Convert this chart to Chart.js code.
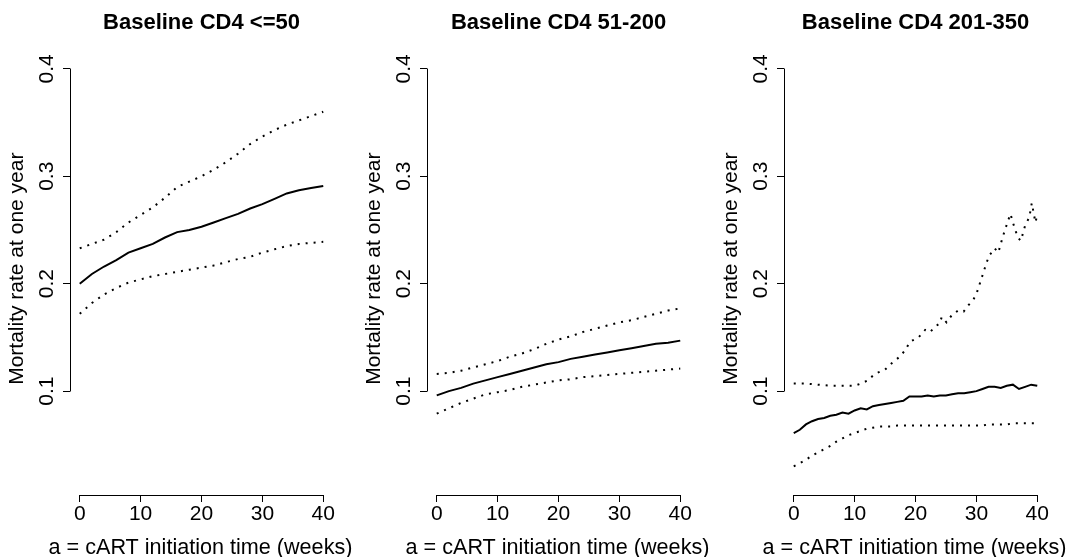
<!DOCTYPE html>
<html>
<head>
<meta charset="utf-8">
<script src="https://cdn.jsdelivr.net/npm/chart.js@4.4.0/dist/chart.umd.min.js"></script>
<style>
	body { margin: 0; background: #fff; }
	#wrap { position: relative; width: 1070px; height: 557px; }
	canvas { position: absolute; top: 0; }
</style>
</head>
<body>
<div id="wrap">
	<canvas id="panel1" width="357" height="557" style="left:0px"></canvas>
	<canvas id="panel2" width="357" height="557" style="left:357px"></canvas>
	<canvas id="panel3" width="356" height="557" style="left:714px"></canvas>
</div>
<script>
var titles = ['Baseline CD4 <=50', 'Baseline CD4 51-200', 'Baseline CD4 201-350'];
var xTitle = 'a = cART initiation time (weeks)';
var yTitle = 'Mortality rate at one year';
var xTicks = [0, 10, 20, 30, 40];
var yTicks = [0.1, 0.2, 0.3, 0.4];

// weeks sampled every 2 for the smooth panels
var weeks = [0, 2, 4, 6, 8, 10, 12, 14, 16, 18, 20, 22, 24, 26, 28, 30, 32, 34, 36, 38, 40];

// CD4 <= 50
var est1   = [0.200, 0.209, 0.216, 0.222, 0.229, 0.233, 0.237, 0.243, 0.248, 0.250, 0.253, 0.257, 0.261, 0.265, 0.270, 0.274, 0.279, 0.284, 0.287, 0.289, 0.291];
var upper1 = [0.233, 0.237, 0.241, 0.248, 0.257, 0.264, 0.271, 0.280, 0.290, 0.295, 0.300, 0.306, 0.313, 0.321, 0.330, 0.337, 0.343, 0.348, 0.352, 0.356, 0.360];
var lower1 = [0.172, 0.182, 0.190, 0.196, 0.201, 0.204, 0.207, 0.209, 0.211, 0.213, 0.215, 0.217, 0.220, 0.223, 0.225, 0.229, 0.232, 0.235, 0.237, 0.238, 0.239];

// CD4 51-200
var est2   = [0.096, 0.100, 0.103, 0.107, 0.110, 0.113, 0.116, 0.119, 0.122, 0.125, 0.127, 0.130, 0.132, 0.134, 0.136, 0.138, 0.140, 0.142, 0.144, 0.145, 0.147];
var upper2 = [0.116, 0.117, 0.119, 0.122, 0.125, 0.128, 0.132, 0.135, 0.139, 0.144, 0.148, 0.151, 0.155, 0.158, 0.161, 0.164, 0.166, 0.169, 0.172, 0.175, 0.177];
var lower2 = [0.079, 0.084, 0.089, 0.093, 0.097, 0.099, 0.101, 0.104, 0.106, 0.108, 0.110, 0.111, 0.113, 0.114, 0.115, 0.116, 0.117, 0.118, 0.119, 0.120, 0.121];

// CD4 201-350 (bumpier, so read more often)
var weeks3 = [0, 1, 2, 3, 4, 5, 6, 7, 8, 9, 10, 11, 12, 13, 14, 15, 16, 17, 18, 19, 20, 21, 22, 23, 24, 25, 26, 27, 28, 29, 30, 31, 32, 33, 34, 35, 36, 37, 38, 39, 40];
var est3   = [0.061, 0.064, 0.069, 0.072, 0.074, 0.075, 0.077, 0.078, 0.080, 0.079, 0.082, 0.084, 0.083, 0.086, 0.087, 0.088, 0.089, 0.090, 0.091, 0.095, 0.095, 0.095, 0.096, 0.095, 0.096, 0.096, 0.097, 0.098, 0.098, 0.099, 0.100, 0.102, 0.104, 0.104, 0.103, 0.105, 0.106, 0.102, 0.104, 0.106, 0.105];
var lower3 = [0.030, 0.033, 0.036, 0.040, 0.043, 0.046, 0.049, 0.053, 0.056, 0.059, 0.061, 0.063, 0.065, 0.066, 0.067, 0.067, 0.067, 0.068, 0.068, 0.068, 0.068, 0.068, 0.068, 0.068, 0.068, 0.068, 0.068, 0.068, 0.068, 0.068, 0.068, 0.068, 0.069, 0.069, 0.069, 0.069, 0.070, 0.070, 0.070, 0.070, 0.070];
var upperWeeks3 = [0, 2, 4, 6, 8, 10, 11, 12.2, 13.3, 15, 16.1, 17.4, 18.3, 19.1, 20.5, 21.6, 22.4, 23.2, 24, 24.3, 25.1, 26, 27, 27.9, 28.7, 29.5, 30.1, 30.9, 31.7, 32.1, 33, 33.6, 34.3, 35.1, 35.6, 36, 36.8, 37.3, 38, 38.7, 39.1, 39.7, 40];
var upper3 = [0.107, 0.107, 0.106, 0.105, 0.105, 0.105, 0.107, 0.110, 0.116, 0.120, 0.126, 0.132, 0.138, 0.146, 0.150, 0.157, 0.155, 0.160, 0.163, 0.169, 0.164, 0.171, 0.175, 0.174, 0.180, 0.185, 0.192, 0.206, 0.220, 0.226, 0.233, 0.229, 0.243, 0.257, 0.265, 0.257, 0.243, 0.240, 0.254, 0.262, 0.275, 0.257, 0.264];

var fontFamily = '"Liberation Sans", Arial, sans-serif';
Chart.defaults.font.family = fontFamily;
Chart.defaults.color = '#000';

function pts(xs, ys) {
	var out = [];
	for (var i in ys) {
		out.push({x: xs[i], y: ys[i]});
	}
	return out;
}

// R style axes: line only between first and last tick, y labels turned,
// axis titles drawn by hand so chart.js does not squeeze them
var rAxes = {
	id: 'rAxes',
	afterDraw: function(chart) {
		var ctx = chart.ctx;
		var xs = chart.scales.x, ys = chart.scales.y, area = chart.chartArea;
		var al = function(p) { return Math.round(p - 0.5) + 0.5; };
		ctx.save();
		ctx.strokeStyle = '#000';
		ctx.lineWidth = 1;
		ctx.beginPath();
		ctx.moveTo(al(xs.getPixelForValue(xTicks[0])), al(area.bottom));
		ctx.lineTo(al(xs.getPixelForValue(xTicks[xTicks.length - 1])), al(area.bottom));
		ctx.moveTo(al(area.left), al(ys.getPixelForValue(yTicks[0])));
		ctx.lineTo(al(area.left), al(ys.getPixelForValue(yTicks[yTicks.length - 1])));
		ctx.stroke();

		ctx.fillStyle = '#000';
		ctx.font = '21px ' + fontFamily;
		ctx.textAlign = 'center';
		ctx.textBaseline = 'alphabetic';
		for (var i in yTicks) {
			var py = ys.getPixelForValue(yTicks[i]);
			ctx.save();
			ctx.translate(area.left - 17, py);
			ctx.rotate(-Math.PI / 2);
			ctx.fillText(String(yTicks[i]), 0, 0);
			ctx.restore();
		}

		ctx.save();
		ctx.translate(area.left - 47, (area.top + area.bottom) / 2 - 5);
		ctx.rotate(-Math.PI / 2);
		ctx.fillText(yTitle, 0, 0);
		ctx.restore();

		ctx.font = '21.6px ' + fontFamily;
		ctx.fillText(xTitle, (area.left + area.right) / 2 - 1, area.bottom + 59);
		ctx.restore();
	}
};

function makePanel(id, title, datasets, rightPad) {
	var ctx = document.getElementById(id);
	return new Chart(ctx, {
		type: 'line',
		data: {datasets: datasets},
		plugins: [rAxes],
		options: {
			responsive: false,
			animation: false,
			devicePixelRatio: 1,
			layout: {padding: {left: 0, right: rightPad, top: 0, bottom: 0}},
			plugins: {
				legend: {display: false},
				tooltip: {enabled: false},
				title: {
					display: true,
					text: title,
					fullSize: false,
					color: '#000',
					font: {size: 22, weight: 'bold'},
					padding: {top: 10, bottom: 16}
				}
			},
			scales: {
				x: {
					type: 'linear',
					min: -1.6,
					max: 41.6,
					afterBuildTicks: function(s) { s.ticks = xTicks.map(function(v) { return {value: v}; }); },
					afterFit: function(s) { s.height = 62; },
					border: {display: false},
					grid: {drawOnChartArea: false, drawTicks: true, tickLength: 7, color: '#000'},
					ticks: {font: {size: 21}, color: '#000', padding: 0, maxRotation: 0}
				},
				y: {
					type: 'linear',
					min: 0.0033,
					max: 0.4153,
					afterBuildTicks: function(s) { s.ticks = yTicks.map(function(v) { return {value: v}; }); },
					afterFit: function(s) { s.width = 70; },
					border: {display: false},
					grid: {drawOnChartArea: false, drawTicks: true, tickLength: 7, color: '#000'},
					ticks: {display: false}
				}
			}
		}
	});
}

function solid(data) {
	return {data: data, borderColor: '#000', borderWidth: 2, pointRadius: 0, tension: 0, fill: false};
}
function dotted(data) {
	return {data: data, borderColor: '#000', borderWidth: 2, borderDash: [2, 6], pointRadius: 0, tension: 0, fill: false};
}

makePanel('panel1', titles[0], [solid(pts(weeks, est1)), dotted(pts(weeks, upper1)), dotted(pts(weeks, lower1))], 24);
makePanel('panel2', titles[1], [solid(pts(weeks, est2)), dotted(pts(weeks, upper2)), dotted(pts(weeks, lower2))], 24);
makePanel('panel3', titles[2], [solid(pts(weeks3, est3)), dotted(pts(upperWeeks3, upper3)), dotted(pts(weeks3, lower3))], 23);
</script>
</body>
</html>
